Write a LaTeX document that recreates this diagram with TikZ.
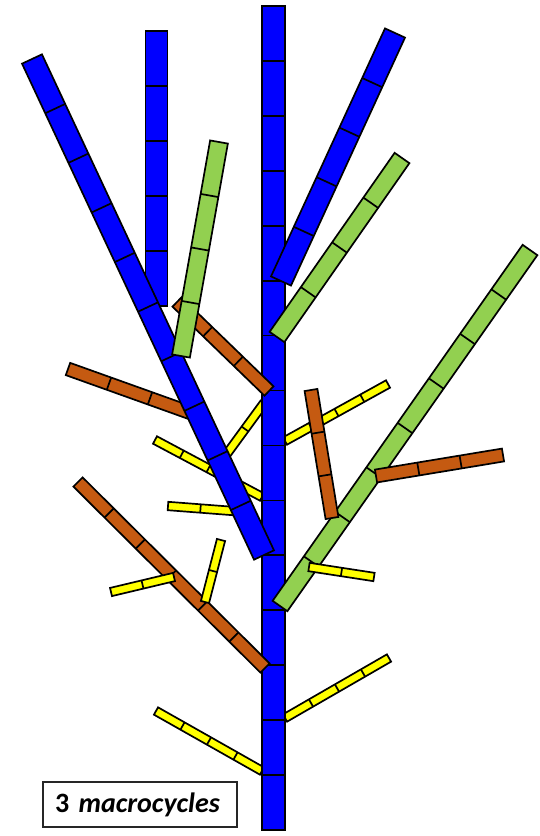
\documentclass[tikz,border=0pt]{standalone}
\usepackage{fontspec}
\setmainfont{Carlito}
\usetikzlibrary{calc}
\definecolor{pblue}{HTML}{0000FF}
\definecolor{pgreen}{HTML}{92D050}
\definecolor{porange}{HTML}{C55A11}
\definecolor{pyellow}{HTML}{FFFF00}
\newcommand{\lblfont}{\fontsize{28}{32}\selectfont}
\newcommand{\stalk}[5]{%
  \filldraw[#1,draw=black,line width=1.7pt] ($(#2)!#5!90:(#3)$) -- ($(#3)!#5!-90:(#2)$) -- ($(#3)!#5!90:(#2)$) -- ($(#2)!#5!-90:(#3)$) -- cycle;
  \pgfmathtruncatemacro{\lastcut}{#4-1}%
  \foreach \k in {1,...,\lastcut} {\coordinate (cut) at ($(#2)!\k/#4!(#3)$); \draw[line width=1.7pt] ($(cut)!#5!90:(#3)$) -- ($(cut)!#5!-90:(#3)$);}%
}

\begin{document}
\begin{tikzpicture}[x=1pt,y=-1pt,font=\lblfont]
\useasboundingbox (0,0) rectangle (539,836);
\stalk{pyellow}{226,455}{264,403}{2}{4.2pt}
\stalk{pyellow}{155,440}{262,497}{4}{4.2pt}
\stalk{pyellow}{168,506}{233,511}{2}{4.2pt}
\stalk{pyellow}{156,711}{262,771}{4}{4.2pt}
\stalk{pyellow}{285,718}{389,658}{4}{4.2pt}
\stalk{pyellow}{285,441}{388,384}{4}{4.2pt}
\stalk{pblue}{273.5,6}{273.5,830}{15}{11.5pt}
\stalk{porange}{68,369}{191,413}{3}{6.5pt}
\stalk{porange}{78,482}{265,668}{6}{6.5pt}
\stalk{pyellow}{205,602}{221,540}{2}{4.2pt}
\stalk{pyellow}{174,577}{111,592}{2}{4.2pt}
\stalk{pblue}{156.5,306}{156.5,31}{5}{11pt}
\stalk{pblue}{264,555}{32,59}{10}{11pt}
\stalk{pblue}{281,281}{395,33}{5}{11pt}
\stalk{porange}{269,391}{177,302}{3}{6.5pt}
\stalk{pgreen}{181,356}{219,142}{4}{9pt}
\stalk{pgreen}{277,337}{402,158}{4}{9pt}
\stalk{pgreen}{280,606}{530,250}{8}{9pt}
\stalk{porange}{332,518}{311,390}{3}{6.5pt}
\stalk{porange}{376,476}{503,455}{3}{6.5pt}
\stalk{pyellow}{309,567}{374,577}{2}{4.2pt}
\node[draw=black!85,line width=2pt,text width=170pt,align=left,inner xsep=12pt,inner ysep=0pt,minimum height=45pt,font=\lblfont\bfseries] (legend) at (140,804.5) {3 \textit{macrocycles}};
\end{tikzpicture}
\end{document}
